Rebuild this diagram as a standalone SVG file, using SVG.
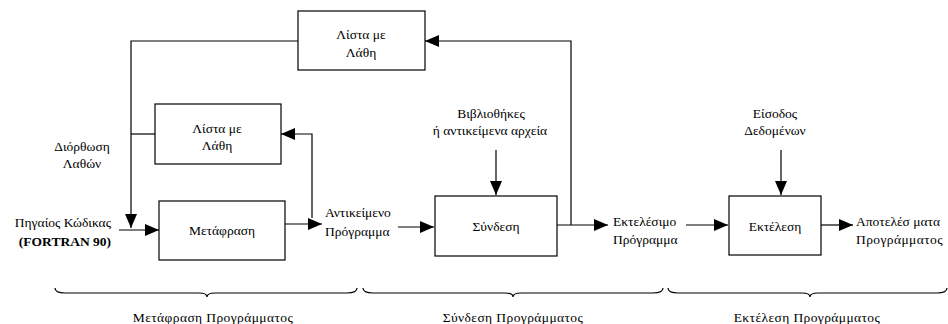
<svg xmlns="http://www.w3.org/2000/svg" width="948" height="324" viewBox="0 0 948 324">
<defs>
<style>
.box{fill:#fff;stroke:#000;stroke-width:1.2}
.ln{fill:none;stroke:#000;stroke-width:1.2}
.t{font-family:'Liberation Serif','Times New Roman',serif;font-size:13.5px;fill:#000;text-anchor:middle;dominant-baseline:central}
.s{text-anchor:start}
.e{text-anchor:end}
.b{font-weight:bold}
.w{letter-spacing:0.4px}
</style>
<marker id="ah" markerUnits="userSpaceOnUse" markerWidth="14" markerHeight="12" viewBox="0 0 14 12" refX="14" refY="6" orient="auto">
<path d="M0,0 L14,6 L0,12 Z" fill="#000"/>
</marker>
</defs>
<rect width="948" height="324" fill="#fff"/>
<g id="connectors">
<path class="ln" d="M298,41 H131 V228" marker-end="url(#ah)"/>
<path class="ln" d="M155,134 H131"/>
<path class="ln" d="M312,218 V134 H281" marker-end="url(#ah)"/>
<path class="ln" d="M119,230 H159" marker-end="url(#ah)"/>
<path class="ln" d="M285,224 H322" marker-end="url(#ah)"/>
<path class="ln" d="M398,227 H434" marker-end="url(#ah)"/>
<path class="ln" d="M496,150 V195" marker-end="url(#ah)"/>
<path class="ln" d="M557,225 H608" marker-end="url(#ah)"/>
<path class="ln" d="M571,225 V41 H425" marker-end="url(#ah)"/>
<path class="ln" d="M686,225 H728" marker-end="url(#ah)"/>
<path class="ln" d="M781,150 V195" marker-end="url(#ah)"/>
<path class="ln" d="M821,225 H853" marker-end="url(#ah)"/>
</g>
<g id="errors-top">
<rect class="box" x="298" y="11" width="127" height="59"/>
<text class="t" x="361" y="34">Λίστα με</text>
<text class="t" x="361" y="52">Λάθη</text>
</g>
<g id="errors-compile">
<rect class="box" x="155" y="104" width="126" height="60"/>
<text class="t" x="217" y="128">Λίστα με</text>
<text class="t" x="217" y="145">Λάθη</text>
</g>
<g id="compile">
<rect class="box" x="159" y="201" width="126" height="59"/>
<text class="t" x="222" y="230">Μετάφραση</text>
</g>
<g id="link">
<rect class="box" x="435" y="196" width="122" height="60"/>
<text class="t" x="496" y="226">Σύνδεση</text>
</g>
<g id="execute">
<rect class="box" x="729" y="196" width="92" height="59"/>
<text class="t" x="775" y="226">Εκτέλεση</text>
</g>
<g id="labels">
<text class="t" x="82" y="146">Διόρθωση</text>
<text class="t" x="82" y="163">Λαθών</text>
<text class="t e" x="111" y="222">Πηγαίος Κώδικας</text>
<text class="t e b" x="111" y="241">(FORTRAN 90)</text>
<text class="t s" x="325" y="212">Αντικείμενο</text>
<text class="t s" x="325" y="231">Πρόγραμμα</text>
<text class="t" x="491" y="113">Βιβλιοθήκες</text>
<text class="t" x="490" y="130">ή αντικείμενα αρχεία</text>
<text class="t s" x="613" y="221">Εκτελέσιμο</text>
<text class="t s" x="613" y="239">Πρόγραμμα</text>
<text class="t" x="775" y="113">Είσοδος</text>
<text class="t" x="775" y="130">Δεδομένων</text>
<text class="t s" x="856" y="221">Αποτελέσ ματα</text>
<text class="t s w" x="856" y="239">Προγράμματος</text>
</g>
<g id="braces">
<path class="ln" d="M55,288 Q55,293 65,293 L199,293 Q207,293 207,297 Q207,293 215,293 L347,293 Q357,293 357,288"/>
<path class="ln" d="M363,288 Q363,293 373,293 L505,293 Q513,293 513,297 Q513,293 521,293 L653,293 Q663,293 663,288"/>
<path class="ln" d="M668,288 Q668,293 678,293 L802,293 Q810,293 810,297 Q810,293 818,293 L937,293 Q947,293 947,288"/>
<text class="t w" x="213" y="317">Μετάφραση Προγράμματος</text>
<text class="t w" x="513" y="317">Σύνδεση Προγράμματος</text>
<text class="t w" x="807" y="317">Εκτέλεση Προγράμματος</text>
</g>
</svg>
